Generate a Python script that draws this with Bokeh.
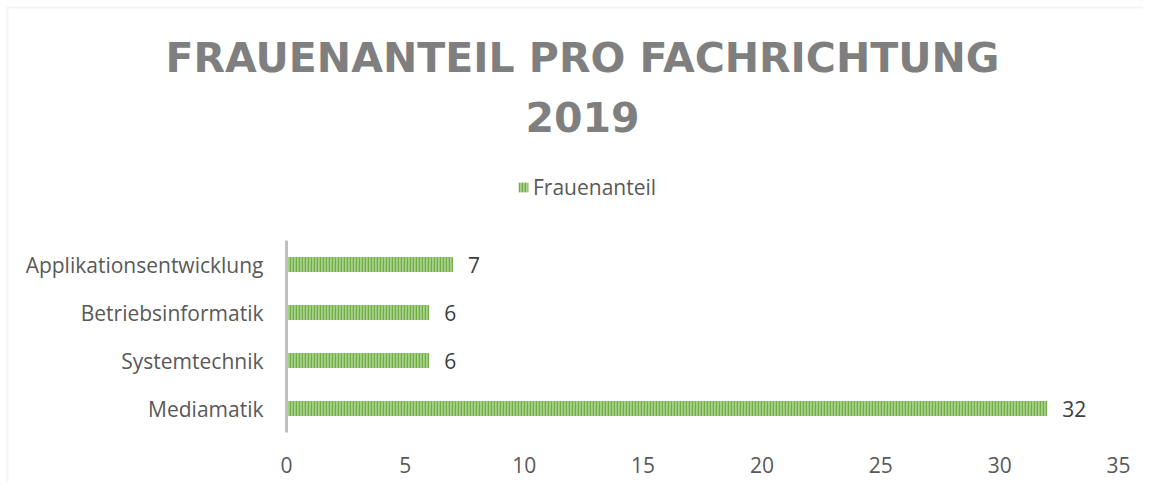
from bokeh.plotting import figure
from bokeh.models import (ColumnDataSource, Range1d, Legend, LegendItem,
                          Label, LabelSet, FixedTicker, BoxAnnotation)
from bokeh.embed import file_html
from bokeh.resources import INLINE
from bokeh.core.properties import value

# ---- data ----
categories = ["Applikationsentwicklung", "Betriebsinformatik", "Systemtechnik", "Mediamatik"]
values = [7, 6, 6, 32]
series_name = "Frauenanteil"
title_line1 = "FRAUENANTEIL PRO FACHRICHTUNG"
title_line2 = "2019"
x_ticks = [0, 5, 10, 15, 20, 25, 30, 35]

FONT = "Open Sans"
TEXT = "#595959"
FS = "21px"

# ---- layout (pixels) ----
W, H = 1143, 482
X0_PX, X1_PX = 286, 1118        # where x = 0 and x = 35 sit
Y0_PX, SLOT_PX = 432, 48        # baseline of the category block, height of one category
kx = (X1_PX - X0_PX) / x_ticks[-1]

n = len(categories)
ypos = [n - 0.5 - i for i in range(n)]          # category slots, top to bottom
src = ColumnDataSource(dict(cat=categories, y=ypos, val=values, lbl=[str(v) for v in values]))

p = figure(width=W, height=H,
           x_range=Range1d(-X0_PX / kx, (W - X0_PX) / kx),
           y_range=Range1d(-(H - Y0_PX) / SLOT_PX, Y0_PX / SLOT_PX),
           output_backend="svg", toolbar_location=None,
           min_border_left=0, min_border_right=0, min_border_bottom=0, min_border_top=0,
           outline_line_color=None)

r = p.hbar(y="y", right="val", left=0, height=0.31, source=src,
           fill_color="#a9d18e", line_color=None,
           hatch_pattern="vertical_line", hatch_color="#70ad47",
           hatch_scale=3, hatch_weight=1.5)

labels = LabelSet(x="val", y="y", text="lbl", source=src, x_offset=15,
                  text_baseline="middle", text_align="left",
                  text_font=value(FONT), text_font_size=FS, text_color="#404040")
p.add_layout(labels)

legend = Legend(items=[LegendItem(label=series_name, renderers=[r])],
                orientation="horizontal", location=(517, H - 187 - 14),
                border_line_color=None, background_fill_alpha=0,
                label_text_font=FONT, label_text_font_size=FS, label_text_color=TEXT,
                glyph_width=12, glyph_height=12, label_standoff=4,
                padding=0, margin=0, spacing=0)
p.add_layout(legend)

for txt, yy in ((title_line1, H - 57), (title_line2, H - 116)):
    p.add_layout(Label(x=582, y=yy, x_units="screen", y_units="screen", text=txt,
                       text_align="center", text_baseline="middle",
                       text_font="DejaVu Sans", text_font_size="41px",
                       text_font_style="bold", text_color="#7f7f7f"))

# chart-area border (top and left visible in the window)
p.add_layout(BoxAnnotation(left=7, right=W + 40, top=H - 7, bottom=-40,
                           left_units="screen", right_units="screen",
                           top_units="screen", bottom_units="screen",
                           fill_alpha=0, line_color="#d9d9d9", line_width=2))

p.xgrid.grid_line_color = None
p.ygrid.grid_line_color = None

p.xaxis.fixed_location = 0
p.xaxis.ticker = FixedTicker(ticks=x_ticks)
p.xaxis.axis_line_color = None
p.xaxis.major_tick_line_color = None
p.xaxis.minor_tick_line_color = None
p.xaxis.major_label_standoff = 18
p.xaxis.major_label_text_font = FONT
p.xaxis.major_label_text_font_size = FS
p.xaxis.major_label_text_color = TEXT

p.yaxis.fixed_location = 0
p.yaxis.ticker = FixedTicker(ticks=ypos)
p.yaxis.major_label_overrides = {y: c for y, c in zip(ypos, categories)}
p.yaxis.bounds = (0, n)
p.yaxis.axis_line_color = "#bfbfbf"
p.yaxis.axis_line_width = 3
p.yaxis.major_tick_line_color = None
p.yaxis.minor_tick_line_color = None
p.yaxis.major_label_standoff = 17
p.yaxis.major_label_text_font = FONT
p.yaxis.major_label_text_font_size = FS
p.yaxis.major_label_text_color = TEXT

open("out.html", "w").write(file_html(p, INLINE))
